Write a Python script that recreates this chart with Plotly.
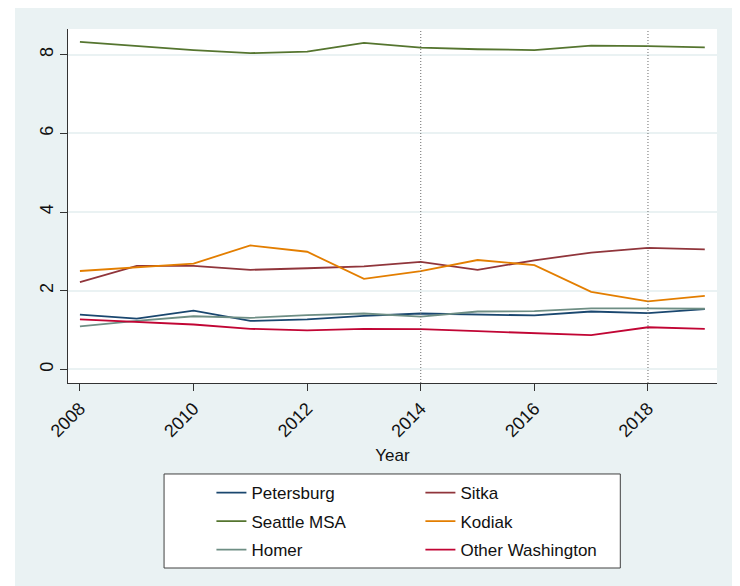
import plotly.graph_objects as go

# ---- data ----
years = list(range(2008, 2020))

petersburg = [1.39, 1.29, 1.49, 1.23, 1.27, 1.36, 1.42, 1.39, 1.37, 1.47, 1.43, 1.53]
sitka = [2.22, 2.63, 2.63, 2.53, 2.57, 2.62, 2.73, 2.53, 2.77, 2.97, 3.09, 3.05]
seattle_msa = [8.33, 8.22, 8.12, 8.04, 8.08, 8.30, 8.18, 8.14, 8.12, 8.23, 8.22, 8.19]
kodiak = [2.50, 2.60, 2.69, 3.15, 2.99, 2.30, 2.50, 2.78, 2.65, 1.97, 1.73, 1.87]
homer = [1.09, 1.23, 1.35, 1.31, 1.38, 1.42, 1.34, 1.47, 1.48, 1.55, 1.55, 1.54]
other_washington = [1.27, 1.20, 1.14, 1.03, 0.99, 1.03, 1.02, 0.97, 0.92, 0.87, 1.07, 1.03]

x_ticks = [2008, 2010, 2012, 2014, 2016, 2018]
y_ticks = [0, 2, 4, 6, 8]
ref_years = [2014, 2018]

# Stata s2color palette
left_col = [
    ("Petersburg", petersburg, "#1a476f"),
    ("Seattle MSA", seattle_msa, "#55752f"),
    ("Homer", homer, "#6e8e84"),
]
right_col = [
    ("Sitka", sitka, "#90353b"),
    ("Kodiak", kodiak, "#e37e00"),
    ("Other Washington", other_washington, "#c10534"),
]

BG = "#eaf2f3"
FONT = "Liberation Sans, Arial, sans-serif"

fig = go.Figure()

for name, vals, color in left_col:
    fig.add_trace(go.Scatter(x=years, y=vals, mode="lines", name=name,
                             line=dict(color=color, width=1.8),
                             legend="legend", legendgroup=name))
for name, vals, color in right_col:
    fig.add_trace(go.Scatter(x=years, y=vals, mode="lines", name=name,
                             line=dict(color=color, width=1.8),
                             legend="legend2", legendgroup=name))

# dotted reference lines
for yr in ref_years:
    fig.add_shape(type="line", x0=yr, x1=yr, xref="x", y0=0, y1=1, yref="paper",
                  line=dict(color="#6a6a6a", width=1, dash="1px,2px"), layer="above")

# white strips left and right of the light graph region
for x0, x1 in [(-1, -0.0817), (1.0277, 2)]:
    fig.add_shape(type="rect", xref="paper", yref="paper", x0=x0, x1=x1, y0=-1, y1=2,
                  fillcolor="white", line=dict(width=0), layer="below")

# legend box
fig.add_shape(type="rect", xref="paper", yref="paper",
              x0=0.148, x1=0.851, y0=-0.5226, y1=-0.257,
              fillcolor="white", line=dict(color="#404040", width=1), layer="below")

legend_common = dict(
    orientation="v", yanchor="top", xanchor="left", y=-0.26,
    bgcolor="rgba(0,0,0,0)", borderwidth=0, traceorder="grouped",
    tracegroupgap=3.4, font=dict(family=FONT, size=17, color="#111111"),
)

fig.update_layout(
    width=740, height=586,
    margin=dict(l=60, r=31, t=21, b=211, autoexpand=False),
    paper_bgcolor=BG, plot_bgcolor="white",
    font=dict(family=FONT, size=16, color="#111111"),
    legend=dict(x=0.221, **legend_common),
    legend2=dict(x=0.543, **legend_common),
    xaxis=dict(
        range=[2007.79, 2019.215], tickvals=x_ticks, tickangle=-45,
        ticks="outside", ticklen=7, tickcolor="#333333",
        showline=True, linecolor="#333333", linewidth=1,
        showgrid=False, zeroline=False, automargin=False,
        tickfont=dict(size=18),
        title=dict(text="Year", font=dict(size=17), standoff=8),
    ),
    yaxis=dict(
        range=[-0.348, 8.655], tickvals=y_ticks, tickangle=-90,
        ticks="outside", ticklen=7, tickcolor="#333333",
        showline=True, linecolor="#333333", linewidth=1,
        showgrid=True, gridcolor=BG, gridwidth=1.5, zeroline=False,
        automargin=False,
        tickfont=dict(size=18),
    ),
)

fig.write_html("out.html")
